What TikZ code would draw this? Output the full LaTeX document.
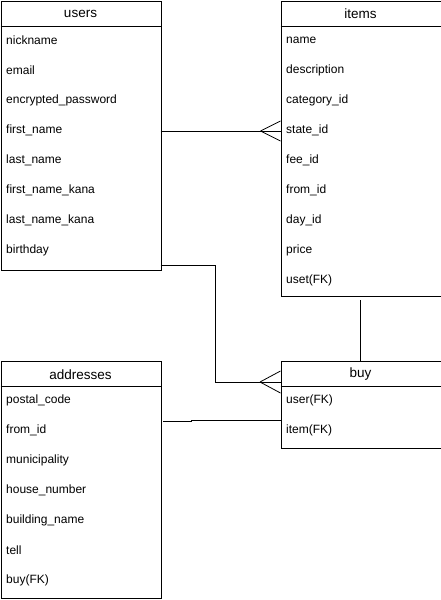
\documentclass[tikz,border=0pt]{standalone}
\usepackage{fontspec}
\setmainfont{Liberation Sans}
\usetikzlibrary{calc}
\begin{document}
\begin{tikzpicture}[x=1pt,y=-1pt,
  tbl/.style={draw,line width=1pt,inner sep=0pt,anchor=north west},
  hdr/.style={font=\fontsize{13.5}{15}\selectfont},
  fld/.style={anchor=west,inner sep=0pt,font=\fontsize{12}{14}\selectfont},
  conn/.style={line width=0.8pt},
]
\useasboundingbox (0,0) rectangle (441,600);
% users
\node[tbl,minimum width=160pt,minimum height=269pt] (users) at (0.5,0.5) {};
\draw[line width=1pt] (0.5,26) -- (160.5,26);
\node[hdr] (usersh) at (80.5,13.5) {users};
\foreach \t [count=\i] in {nickname,email,encrypted\_password,first\_name,last\_name,first\_name\_kana,last\_name\_kana,birthday}
  \node[fld] (u\i) at (6,{10.5+30*\i}) {\t};
% items
\node[tbl,minimum width=160pt,minimum height=295pt] (items) at (280.5,0.5) {};
\draw[line width=1pt] (280.5,26) -- (440.5,26);
\node[hdr] (itemsh) at (360.5,13.5) {items};
\foreach \t [count=\i] in {name,description,category\_id,state\_id,fee\_id,from\_id,day\_id,price,uset(FK)}
  \node[fld] (it\i) at (286,{10.5+30*\i}) {\t};
% addresses
\node[tbl,minimum width=160pt,minimum height=237pt] (addr) at (0.5,360.5) {};
\draw[line width=1pt] (0.5,386) -- (160.5,386);
\node[hdr] (addrh) at (80.5,374.5) {addresses};
\foreach \t [count=\i] in {postal\_code,from\_id,municipality,house\_number,building\_name,tell,buy(FK)}
  \node[fld] (a\i) at (6,{370.5+30*\i}) {\t};
% buy
\node[tbl,minimum width=160pt,minimum height=87pt] (buy) at (280.5,360.5) {};
\draw[line width=1pt] (280.5,386) -- (440.5,386);
\node[hdr] (buyh) at (360.5,374.5) {buy};
\foreach \t [count=\i] in {user(FK),item(FK)}
  \node[fld] (b\i) at (286,{370.5+30*\i}) {\t};
% connectors
\coordinate (c1s) at (160.5,131);
\coordinate (c1e) at (280.5,131);
\draw[conn] (c1s) -- (c1e);
\draw[conn] ($(c1e)+(-20,0)$) -- ++(20,-10) ($(c1e)+(-20,0)$) -- ++(20,10);
\coordinate (c2s) at (160.5,265);
\coordinate (c2m) at (215,382);
\coordinate (c2e) at (280.5,382);
\draw[conn] (c2s) -- (215,265) -- (c2m) -- (c2e);
\draw[conn] (260,382) -- (280.5,371) (260,382) -- (280.5,393);
\coordinate (c3s) at (360.5,300);
\draw[conn] (c3s) -- (360.5,360.5);
\coordinate (c4s) at (163,421);
\coordinate (c4e) at (280.5,420);
\draw[conn] (c4s) -- (191,421) -- (191,420) -- (c4e);
\end{tikzpicture}
\end{document}
